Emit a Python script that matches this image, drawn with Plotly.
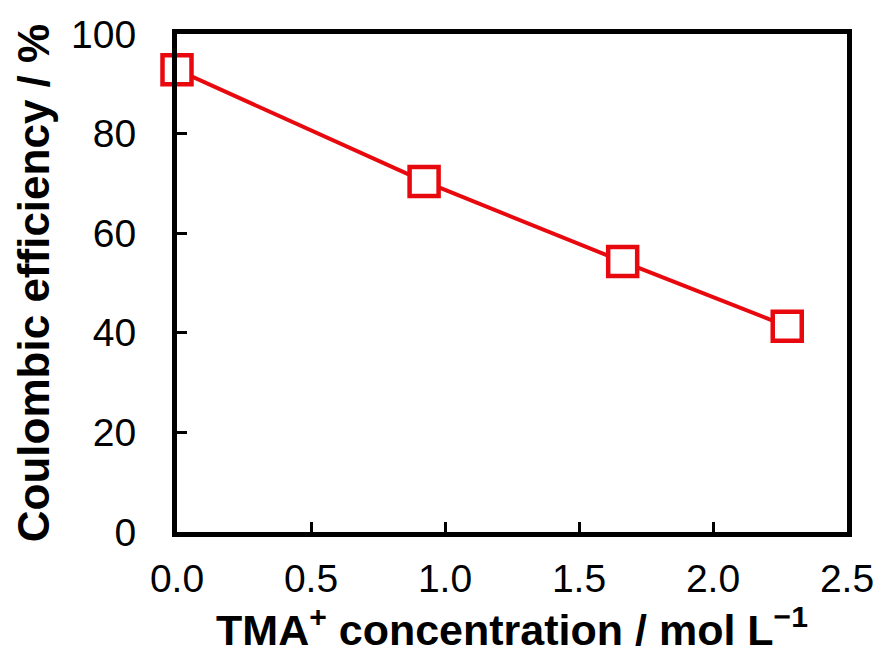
import plotly.graph_objects as go

# TMA+ concentration (mol/L) and Coulombic efficiency (%)
concentration = [0.0, 0.922, 1.663, 2.277]
efficiency = [92.8, 70.4, 54.3, 41.3]

x_ticks = [0.0, 0.5, 1.0, 1.5, 2.0, 2.5]
x_tick_text = ["0.0", "0.5", "1.0", "1.5", "2.0", "2.5"]
y_ticks = [0, 20, 40, 60, 80, 100]

RED = "#e8090f"
FONT = "Liberation Sans, Arial, sans-serif"

fig = go.Figure()
fig.add_trace(go.Scatter(
    x=concentration,
    y=efficiency,
    mode="lines+markers",
    line=dict(color=RED, width=4),
    marker=dict(symbol="square", size=29, color="white",
                line=dict(color=RED, width=4.5)),
    cliponaxis=False,
    showlegend=False,
))

axis_common = dict(
    showline=True, linecolor="black", linewidth=5, mirror=True,
    ticks="inside", ticklen=10, tickwidth=2.5, tickcolor="black",
    showgrid=False, zeroline=False,
    tickfont=dict(family=FONT, size=39, color="black"),
)

fig.update_layout(
    width=886, height=656,
    margin=dict(l=177, r=28, t=34, b=124),
    paper_bgcolor="white", plot_bgcolor="white",
    xaxis=dict(
        range=[0, 2.5], tickvals=x_ticks, ticktext=x_tick_text,
        ticklabelstandoff=8,
        title=dict(text="TMA<sup>+</sup> concentration / mol L<sup>−1</sup>",
                   font=dict(family=FONT, size=43, color="black", weight="bold"),
                   standoff=12),
        **axis_common,
    ),
    yaxis=dict(
        range=[0, 100], tickvals=y_ticks,
        ticklabelstandoff=28,
        title=dict(text="Coulombic efficiency / %",
                   font=dict(family=FONT, size=44, color="black", weight="bold"),
                   standoff=9),
        **axis_common,
    ),
)

fig.write_html("out.html")
